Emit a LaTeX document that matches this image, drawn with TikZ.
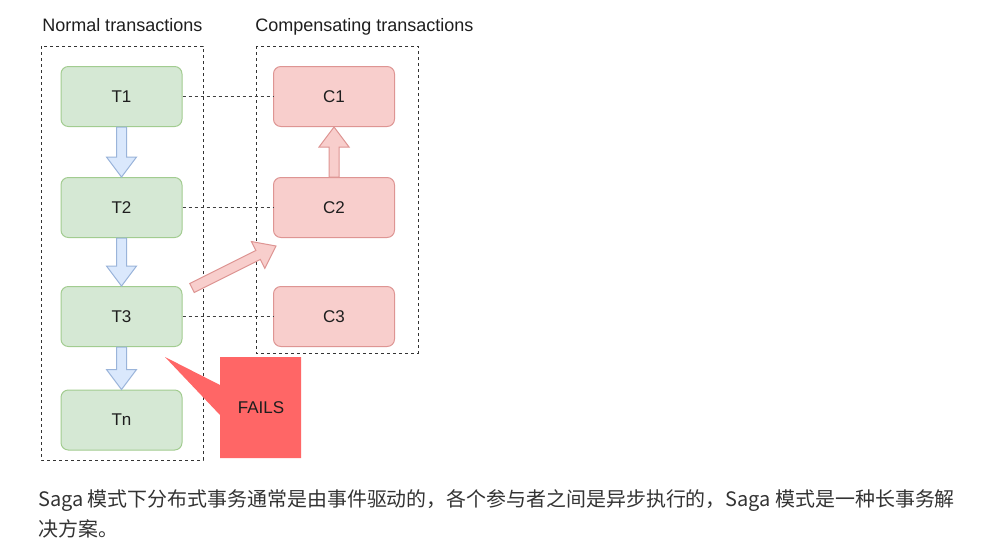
\documentclass[tikz,border=0pt]{standalone}
\usepackage{fontspec}
\setmainfont{Liberation Sans}
\newfontfamily\cjk{Noto Sans CJK SC}
\usetikzlibrary{calc}
\definecolor{gfill}{HTML}{D5E8D4}
\definecolor{gline}{HTML}{A2CC90}
\definecolor{rfill}{HTML}{F8CECC}
\definecolor{rline}{HTML}{DE9593}
\definecolor{bfill}{HTML}{DAE8FC}
\definecolor{bline}{HTML}{9AB4DA}
\definecolor{failfill}{HTML}{FF6666}
\definecolor{txt}{HTML}{1E1E1E}
\definecolor{para}{HTML}{333333}
\tikzset{
  tbox/.style={draw=gline, fill=gfill, line width=0.75pt, rounded corners=5.5pt,
    minimum width=90.75pt, minimum height=45pt, inner sep=0pt,
    text=txt, font=\fontsize{12.75}{15}\selectfont},
  cbox/.style={tbox, draw=rline, fill=rfill},
  group/.style={draw=black!80, dash pattern=on 2.25pt off 2.25pt, line width=0.75pt},
  link/.style={draw=black!75, dash pattern=on 2.25pt off 2.25pt, line width=0.75pt},
  title/.style={anchor=base west, inner sep=0pt, text=txt, font=\fontsize{13.5}{16}\selectfont},
  blueflow/.style={draw=bline, fill=bfill, line width=0.75pt, line join=miter},
  redflow/.style={draw=rline, fill=rfill, line width=0.75pt, line join=miter},
  paratext/.style={anchor=base west, inner sep=0pt, text=para, font=\cjk\fontsize{14.95}{22}\selectfont},
}
\newcommand\fatarrow[3]{%
  \coordinate (fa-h) at ($(#3)!15pt!(#2)$);
  \draw[#1] ($(#2)!3.75pt!90:(#3)$) -- ($(fa-h)!3.75pt!90:(#3)$) -- ($(fa-h)!11.25pt!90:(#3)$) -- (#3)
    -- ($(fa-h)!11.25pt!-90:(#3)$) -- ($(fa-h)!3.75pt!-90:(#3)$) -- ($(#2)!3.75pt!-90:(#3)$) -- cycle;}
\begin{document}
\begin{tikzpicture}[x=0.75pt,y=-0.75pt]
\fill[white] (0,0) rectangle (1003,550);
\useasboundingbox (0,0) rectangle (1003,550);

% titles
\node[title] (tn) at (42,31) {Normal transactions};
\node[title] (tc) at (255,31) {Compensating transactions};

% group boxes
\draw[group] (41,46) rectangle (203,460);
\draw[group] (256,46) rectangle (418,353);

% nodes
\node[tbox] (T1) at (121.5,96.5) {T1};
\node[tbox] (T2) at (121.5,207.5) {T2};
\node[tbox] (T3) at (121.5,316.5) {T3};
\node[tbox] (Tn) at (121.5,420) {Tn};
\node[cbox] (C1) at (334,96.5) {C1};
\node[cbox] (C2) at (334,207.5) {C2};
\node[cbox] (C3) at (334,316.5) {C3};

% dashed links
\draw[link] (T1.east) -- (C1.west);
\draw[link] (T2.east) -- (C2.west);
\draw[link] (T3.east) -- (C3.west);

% flow arrows
\fatarrow{blueflow}{T1.south}{T2.north}
\fatarrow{blueflow}{T2.south}{T3.north}
\fatarrow{blueflow}{T3.south}{Tn.north}
\fatarrow{redflow}{C2.north}{C1.south}
\coordinate (dstart) at (192,288);
\coordinate (dend) at (276,246);
\fatarrow{redflow}{dstart}{dend}

% FAILS callout
\fill[failfill] (220,357) -- (301,357) -- (301,458) -- (220,458) -- (220,415) -- (165,357) -- (220,385) -- cycle;
\node[inner sep=0pt, text=txt, font=\fontsize{12.75}{15}\selectfont] (fails) at (261,408) {FAILS};

% paragraph
\node[paratext] (p1) at (38,506.5) {Saga 模式下分布式事务通常是由事件驱动的，各个参与者之间是异步执行的，Saga 模式是一种长事务解};
\node[paratext] (p2) at (38,536) {决方案。};
\end{tikzpicture}
\end{document}
